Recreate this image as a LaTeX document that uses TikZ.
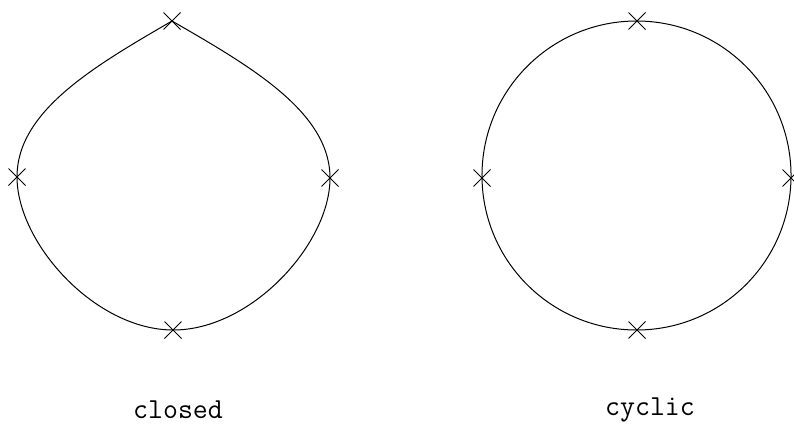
\documentclass[tikz,border=0pt]{standalone}
\usetikzlibrary{hobby,shapes.misc}
\begin{document}
\begin{tikzpicture}[x=1pt,y=-1pt,
  curve/.style={line width=1pt, black},
  xmark/.style={draw, cross out, line width=1pt, minimum size=16pt, inner sep=0pt},
  lbl/.style={font=\ttfamily\fontsize{29}{29}\selectfont, anchor=base, inner sep=0pt}]
\useasboundingbox (0,0) rectangle (794,423);
% closed curve (ends meet at the top without a smooth join)
\coordinate (T1) at (172,21);
\coordinate (R1) at (330,178);
\coordinate (B1) at (173,330);
\coordinate (L1) at (17,177);
\draw[curve] (T1) .. controls (250.96,66.54) and (329.93,112.07) .. (R1)
  .. controls (330.07,243.93) and (251.25,330.25) .. (B1)
  .. controls (94.75,329.75) and (17.07,242.93) .. (L1)
  .. controls (16.93,111.07) and (94.46,66.04) .. (T1);
% cyclic curve
\coordinate (T2) at (637,21);
\coordinate (R2) at (791,178);
\coordinate (B2) at (637,330);
\coordinate (L2) at (482,178);
\draw[curve, use Hobby shortcut, closed=true] (T2) .. (R2) .. (B2) .. (L2);
% marks
\foreach \p in {T1,R1,B1,L1,T2,R2,B2,L2} \node[xmark] (m\p) at (\p) {};
% labels
\node[lbl] (lclosed) at (178,418) {closed};
\node[lbl] (lcyclic) at (650,415) {cyclic};
\end{tikzpicture}
\end{document}
